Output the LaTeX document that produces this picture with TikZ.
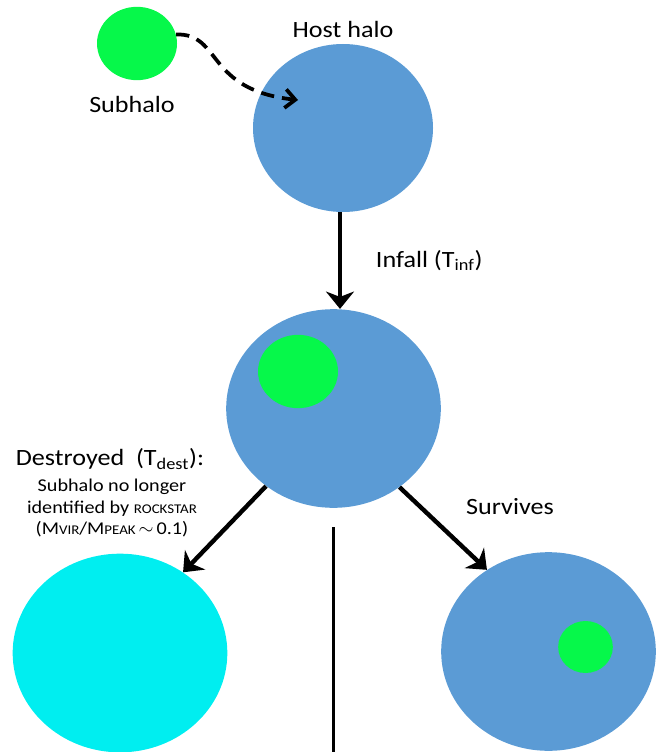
\documentclass[tikz,border=0pt]{standalone}
\usepackage{fontspec}
\setmainfont{Carlito}[FakeStretch=1.12]
\usetikzlibrary{shapes.geometric,arrows.meta}

\definecolor{hostblue}{RGB}{91,155,213}
\definecolor{subgreen}{RGB}{6,248,74}
\definecolor{destcyan}{RGB}{0,238,240}

\tikzstyle{halo} = [ellipse, inner sep=0pt, minimum width=161pt, minimum height=149pt]
\tikzstyle{host} = [halo, fill=hostblue]
\tikzstyle{sub} = [ellipse, inner sep=0pt, fill=subgreen, minimum width=60pt, minimum height=55pt]
\tikzstyle{haloname} = [font=\fontsize{17.5}{20}\selectfont]
\tikzstyle{note} = [font=\fontsize{13.5}{16}\selectfont, align=center]
\tikzstyle{arrow} = [draw, line width=3.3pt, -{Stealth[length=13pt,width=21pt,inset=4pt]}]
\tikzstyle{orbit} = [draw, line width=2.8pt, dash pattern=on 10pt off 6pt, -{Straight Barb[length=7.5pt,width=14pt]}]
\newcommand{\smallcap}[1]{{\fontsize{10}{11}\selectfont #1}}

\begin{document}
\begin{tikzpicture}[x=0.75pt, y=-0.75pt]
	\useasboundingbox (0,0) rectangle (667,752);

	% Before infall
	\node [sub] (subhalo) at (137,43.5) {};
	\node [haloname] (subhalo_name) at (132,104) {Subhalo};
	\node [host, minimum width=135pt, minimum height=126pt] (host) at (343,128) {};
	\node [haloname] (host_name) at (343,29) {Host halo};
	\coordinate (entry) at (298,100);
	\draw [orbit] (subhalo.13) .. controls (222,33) and (205,90) .. (entry);

	% Infall
	\node [host] (infall) at (333.5,408.5) {};
	\node [sub] (infall_sub) at (298,371.5) {};
	\draw [arrow] ([xshift=-2.25pt] host.south) to node[haloname, right, xshift=22pt] {Infall (T\textsubscript{inf})} ([xshift=-2.25pt] host.south |- infall.north);

	% Destroyed
	\node [halo, fill=destcyan] (destroyed) at (120,653) {};
	\node [haloname] (destroyed_name) at (110,459) {Destroyed\ \ (T\textsubscript{dest}):};
	\node [note] (destroyed_note) at (112,508) {Subhalo no longer\\identified by \smallcap{ROCKSTAR}\\(M\smallcap{VIR}/M\smallcap{PEAK}\,$\sim$\,0.1)};
	\draw [arrow] (infall.229) to (destroyed.52);

	% Survives
	\node [host] (survives) at (548.5,651.5) {};
	\node [sub, minimum width=41pt, minimum height=39pt] (survives_sub) at (585.5,647) {};
	\node [haloname] (survives_name) at (510,507) {Survives};
	\draw [arrow] (infall.310) to (survives.127.6);

	% Split
	\coordinate (split_top) at (333.5,527);
	\coordinate (split_bottom) at (333.5,752);
	\draw [line width=2.25pt] (split_top) -- (split_bottom);
\end{tikzpicture}
\end{document}
